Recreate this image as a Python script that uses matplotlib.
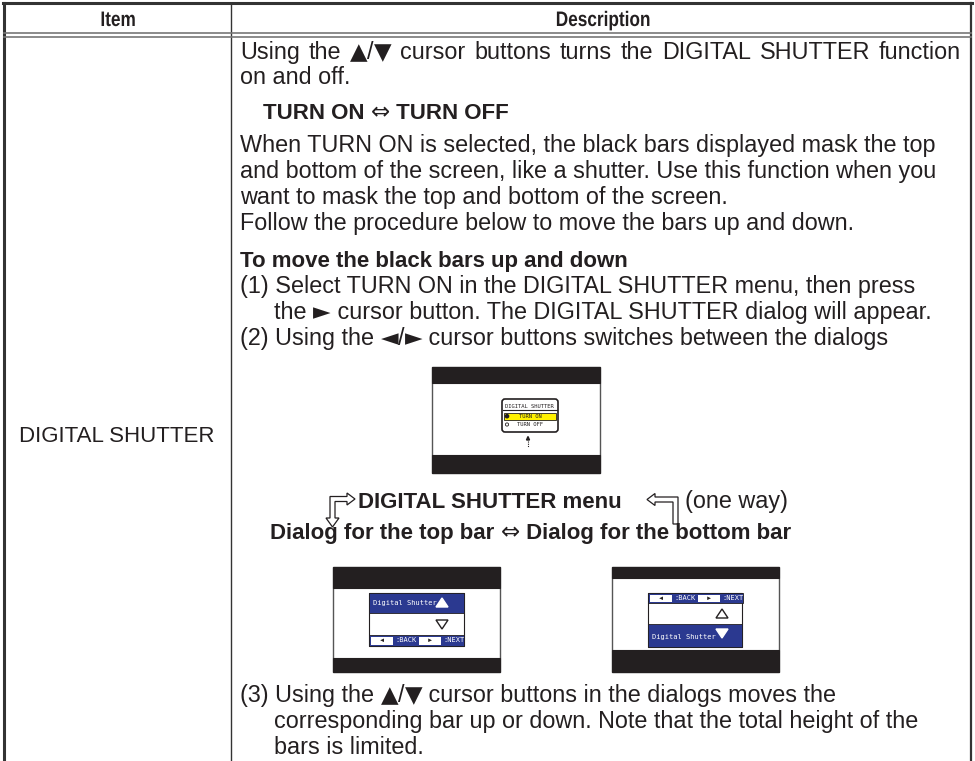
import matplotlib.pyplot as plt
from matplotlib.font_manager import FontProperties
from matplotlib.patches import Rectangle, Polygon, FancyBboxPatch, Circle, PathPatch
from matplotlib.textpath import TextPath
from matplotlib.transforms import Affine2D

# ---- table content -------------------------------------------------------
HEADERS = ["Item", "Description"]
ITEM_LABEL = "DIGITAL SHUTTER"

INTRO_LINES = [
    "Using the \u25b2/\u25bc cursor buttons turns the DIGITAL SHUTTER function",
    "on and off.",
]
TOGGLE_LINE = "TURN ON \u21d4 TURN OFF"
BODY_LINES = [
    "When TURN ON is selected, the black bars displayed mask the top",
    "and bottom of the screen, like a shutter. Use this function when you",
    "want to mask the top and bottom of the screen.",
    "Follow the procedure below to move the bars up and down.",
]
STEPS_TITLE = "To move the black bars up and down"
STEP_LINES = [
    ("(1) Select TURN ON in the DIGITAL SHUTTER menu, then press", False),
    ("the \u25ba cursor button. The DIGITAL SHUTTER dialog will appear.", True),
    ("(2) Using the \u25c4/\u25ba cursor buttons switches between the dialogs", False),
]
MENU_LINE = "DIGITAL SHUTTER menu"
MENU_NOTE = "(one way)"
DIALOG_LINE = "Dialog for the top bar \u21d4 Dialog for the bottom bar"
LAST_LINES = [
    ("(3) Using the \u25b2/\u25bc cursor buttons in the dialogs moves the", False),
    ("corresponding bar up or down. Note that the total height of the", True),
    ("bars is limited.", True),
]
MENU_ITEMS = ["DIGITAL SHUTTER", "TURN ON", "TURN OFF"]
DIALOG_TITLE = "Digital Shutter"
NAV_LABELS = [":BACK", ":NEXT"]

INK = "#231f20"
BLUE = "#2b3990"
FAM = ["Liberation Sans", "DejaVu Sans"]
MONO = ["DejaVu Sans Mono"]
SYMBOLS = "\u25b2\u25bc\u25ba\u25c4\u21d4"

REG = dict(fontsize=16.8, family=FAM, fontweight="normal")
BOLD = dict(fontsize=16, family=FAM, fontweight="bold")
SYM = dict(fontsize=16.5, family=["DejaVu Sans"], fontweight="normal")

fig = plt.figure(figsize=(9.75, 7.61), dpi=100)
ax = fig.add_axes([0, 0, 1, 1])
ax.set_xlim(0, 975)
ax.set_ylim(761, 0)
ax.axis("off")
renderer = fig.canvas.get_renderer()


def width(s, style):
    def w(st):
        t = ax.text(0, 0, st, **style)
        bb = t.get_window_extent(renderer)
        t.remove()
        return bb.width
    return w("X" + s + "X") - w("XX")


def line(x, y, s, style=REG, ha="left", color=INK, justify=None):
    # split into runs so that arrows/triangles come from DejaVu Sans;
    # words are split apart only when the line is justified
    runs = []
    for ch in s:
        if ch in SYMBOLS:
            kind = "sym"
        elif ch == " " and justify is not None:
            kind = "sp"
        else:
            kind = "txt"
        if runs and runs[-1][1] == kind:
            runs[-1][0] += ch
        else:
            runs.append([ch, kind])
    widths = [width(r, SYM if k == "sym" else style) for r, k in runs]
    extra = 0
    if justify is not None:
        n_sp = sum(1 for _, k in runs if k == "sp")
        extra = (justify - x - sum(widths)) / max(n_sp, 1)
    if ha == "center":
        x -= sum(widths) / 2
    for (r, k), w in zip(runs, widths):
        if k != "sp":
            ax.text(x, y, r, va="baseline", ha="left", color=color,
                    **(SYM if k == "sym" else style))
        x += w + (extra if k == "sp" else 0)


def header(cx, y, s, em=21, sx=0.82):
    # condensed bold heading: a text path squeezed horizontally
    tp = TextPath((0, 0), s, size=em, prop=FontProperties(family="Liberation Sans", weight="bold"))
    w = tp.get_extents().width * sx
    tr = Affine2D().scale(sx, -1).translate(cx - w / 2, y)
    ax.add_patch(PathPatch(tr.transform_path(tp), facecolor=INK, edgecolor="none"))


# ---- table frame ---------------------------------------------------------
ax.plot([4, 4], [3, 761], color="#333333", lw=2.2)
ax.plot([971, 971], [3, 761], color="#333333", lw=1.6)
ax.plot([3, 972], [3, 3], color="#333333", lw=2.2)
ax.plot([231, 231], [3, 761], color="#333333", lw=1.0)
ax.plot([4, 971], [33, 33], color="#777777", lw=1.2)
ax.plot([4, 971], [36.5, 36.5], color="#777777", lw=1.2)

header(117, 26, HEADERS[0])
header(602, 26, HEADERS[1])
line(117, 442, ITEM_LABEL, style=dict(REG, fontsize=16), ha="center")

# ---- description text ----------------------------------------------------
x0, x_ind = 240, 274
line(x0, 59, INTRO_LINES[0], justify=961)
line(x0, 84, INTRO_LINES[1])
line(263, 119, TOGGLE_LINE, BOLD)
for i, s in enumerate(BODY_LINES):
    line(x0, 152 + 26 * i, s)
line(x0, 267, STEPS_TITLE, BOLD)
for i, (s, indent) in enumerate(STEP_LINES):
    line(x_ind if indent else x0, 293 + 26 * i, s)

line(358, 508, MENU_LINE, BOLD)
line(685, 508, MENU_NOTE)
line(270, 539, DIALOG_LINE, BOLD)
for i, (s, indent) in enumerate(LAST_LINES):
    line(x_ind if indent else x0, 702 + 26 * i, s)

# hollow bent arrows around the menu line
left_arrow = [(330, 496.5), (347, 496.5), (347, 493), (355, 499), (347, 505),
              (347, 501.5), (335, 501.5), (335, 518), (339, 518), (332.5, 527),
              (326, 518), (330, 518)]
right_arrow = [(655, 497), (678, 497), (678, 524), (673, 524), (673, 502),
               (655, 502), (655, 505.5), (647, 499.5), (655, 493.5)]
for pts in (left_arrow, right_arrow):
    ax.add_patch(Polygon(pts, closed=True, facecolor="white", edgecolor=INK, lw=0.9))


# ---- mini screens --------------------------------------------------------
def screen(x, y, w, h, top, bottom):
    ax.add_patch(Rectangle((x, y), w, h, facecolor="white", edgecolor="#555555", lw=1.0))
    ax.add_patch(Rectangle((x, y), w, top, facecolor=INK, edgecolor=INK, lw=0.8))
    ax.add_patch(Rectangle((x, y + h - bottom), w, bottom, facecolor=INK, edgecolor=INK, lw=0.8))


def tri(cx, cy, up=True, fill="white", edge="white"):
    d = -1 if up else 1
    pts = [(cx - 6, cy - 4 * d), (cx + 6, cy - 4 * d), (cx, cy + 5 * d)]
    ax.add_patch(Polygon(pts, closed=True, facecolor=fill, edgecolor=edge, lw=1.0))


def nav_row(x, y, h):
    ax.add_patch(Rectangle((x, y), 95, h, facecolor=BLUE, edgecolor=INK, lw=0.6))
    for k, (bx, lab) in enumerate(zip((x + 2, x + 50), NAV_LABELS)):
        ax.add_patch(Rectangle((bx, y + 1.5), 22, h - 3, facecolor="white", edgecolor="none"))
        ax.text(bx + 11, y + h / 2, "\u25c4" if k == 0 else "\u25ba", ha="center", va="center",
                fontsize=4.5, color=INK, family=FAM)
        ax.text(bx + 24, y + h / 2, lab, ha="left", va="center", fontsize=5,
                color="white", family=MONO)


# screen with the menu
screen(432, 367, 168, 106, 16, 18)
ax.add_patch(FancyBboxPatch((502, 399), 56, 33, boxstyle="round,pad=0,rounding_size=3",
                            facecolor="white", edgecolor=INK, lw=1.2))
ax.text(529, 406, MENU_ITEMS[0], ha="center", va="center", fontsize=4, color=INK, family=MONO)
ax.plot([503, 557], [410, 410], color=INK, lw=0.8)
ax.add_patch(Rectangle((504, 413), 52, 6.5, facecolor="#fff200", edgecolor=INK, lw=0.6))
ax.add_patch(Circle((507, 416.2), 1.6, facecolor=INK, edgecolor=INK))
ax.text(530, 416.5, MENU_ITEMS[1], ha="center", va="center", fontsize=4, color=INK, family=MONO)
ax.add_patch(Circle((507, 424.5), 1.6, facecolor="white", edgecolor=INK, lw=0.6))
ax.text(530, 424.5, MENU_ITEMS[2], ha="center", va="center", fontsize=4, color=INK, family=MONO)
ax.plot([528, 528], [441, 447], color=INK, lw=0.8, ls=(0, (1, 1)))
ax.add_patch(Polygon([(526.5, 440), (529.5, 440), (528, 436.5)], closed=True, facecolor=INK, edgecolor=INK))

# dialog for the top bar
screen(333, 567, 167, 105, 21, 14)
ax.add_patch(Rectangle((369, 593), 95, 53, facecolor="white", edgecolor=INK, lw=0.8))
ax.add_patch(Rectangle((369, 593), 95, 20, facecolor=BLUE, edgecolor=INK, lw=0.6))
ax.text(373, 603, DIALOG_TITLE, ha="left", va="center", fontsize=5, color="white", family=MONO)
tri(442, 603, up=True)
tri(442, 624, up=False, fill="white", edge=INK)
nav_row(369, 635, 11)

# dialog for the bottom bar
screen(612, 567, 167, 105, 11, 22)
ax.add_patch(Rectangle((648, 593), 94, 54, facecolor="white", edgecolor=INK, lw=0.8))
nav_row(648, 593, 10)
tri(722, 614, up=True, fill="white", edge=INK)
ax.add_patch(Rectangle((648, 624), 94, 23, facecolor=BLUE, edgecolor=INK, lw=0.6))
ax.text(652, 637, DIALOG_TITLE, ha="left", va="center", fontsize=5, color="white", family=MONO)
tri(722, 633, up=False)

fig.savefig("out.png", dpi=100)
